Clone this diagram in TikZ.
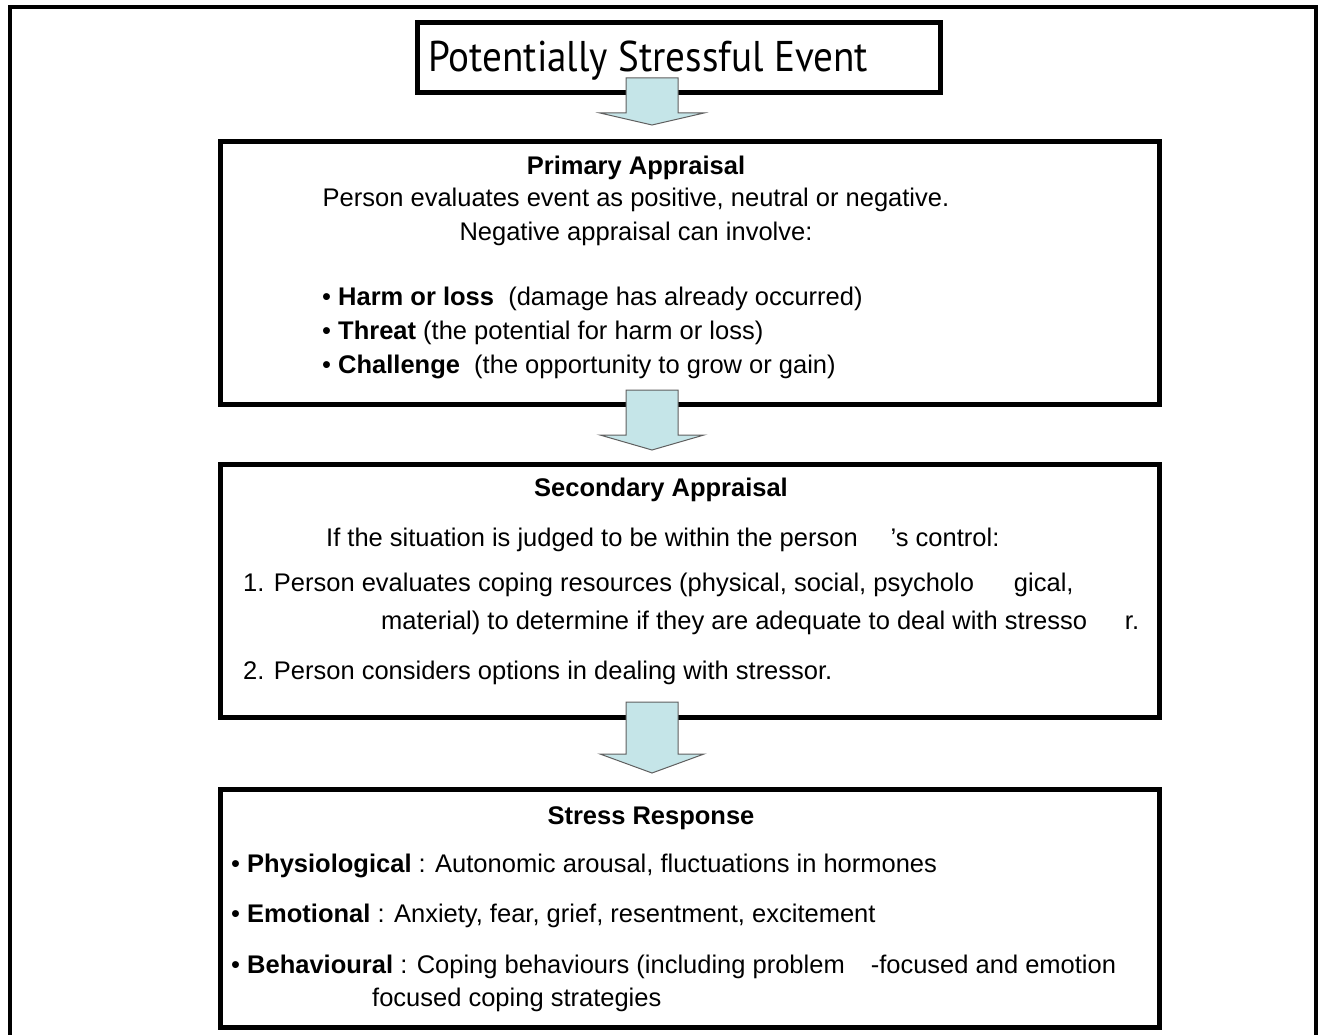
\documentclass[tikz,border=0pt]{standalone}
\usepackage{fontspec}
\setmainfont{Liberation Sans}
\newfontfamily\titlefont{PT Sans}
\usetikzlibrary{calc}
\definecolor{arrowfill}{RGB}{197,229,232}
\definecolor{arrowline}{RGB}{95,95,95}
\tikzset{
  frameline/.style={line width=4pt, line cap=rect},
  box/.style={draw=black, line width=5pt, fill=none, anchor=north west, inner sep=0pt},
  blockarrow/.style={draw=arrowline, fill=arrowfill, line width=1pt, line join=miter},
  txt/.style={anchor=base west, inner sep=0pt, font=\fontsize{25.5}{30}\selectfont},
  ctxt/.style={txt, anchor=base},
  head/.style={ctxt, font=\fontsize{25.5}{30}\selectfont\bfseries},
  pics/downarrow/.style args={#1/#2}{code={
    \draw[blockarrow] (-26,0) -- (26,0) -- (26,#1) -- (52,#1) -- (0,#2) -- (-52,#1) -- (-26,#1) -- cycle;
  }}
}
\begin{document}
\begin{tikzpicture}[x=1pt, y=-1pt]
\useasboundingbox (0,0) rectangle (1319,1035);
% outer frame (open at the bottom)
\coordinate (fbl) at (10,1045);
\coordinate (ftl) at (10,7);
\coordinate (ftr) at (1316,7);
\coordinate (fbr) at (1316,1045);
\draw[frameline] (fbl) -- (ftl) -- (ftr) -- (fbr);

% boxes
\node[box, minimum width=523pt, minimum height=70pt] (event) at (415,20) {};
\node[box, minimum width=939pt, minimum height=263pt] (prim) at (218,139) {};
\node[box, minimum width=939pt, minimum height=253pt] (sec) at (218,462) {};
\node[box, minimum width=939pt, minimum height=238pt] (resp) at (218,787) {};

% title
\node[anchor=base west, inner sep=0pt, font=\titlefont\fontsize{43}{48}\selectfont] (title) at (428,72) {\scalebox{0.91}[1]{Potentially Stressful Event}};

% block arrows
\coordinate (a1) at (652,78);
\coordinate (a2) at (652,390);
\coordinate (a3) at (652,702);
\pic at (a1) {downarrow=35/47};
\pic at (a2) {downarrow=45/60};
\pic at (a3) {downarrow=52/71};

% primary appraisal
\node[head] (pah) at (636,175) {Primary Appraisal};
\node[ctxt] (pa1) at (636,207) {Person evaluates event as positive, neutral or negative.};
\node[ctxt] (pa2) at (636,240) {Negative appraisal can involve:};
\node[txt] (pa3) at (322,305) {• \textbf{Harm or loss}\ \ (damage has already occurred)};
\node[txt] (pa4) at (322,339) {• \textbf{Threat} (the potential for harm or loss)};
\node[txt] (pa5) at (322,373) {• \textbf{Challenge}\ \ (the opportunity to grow or gain)};

% secondary appraisal
\node[head] (sah) at (661,496) {Secondary Appraisal};
\node[txt] (sa1) at (326,546) {If the situation is judged to be within the person\hspace{33pt}’s control:};
\node[txt] (sa2) at (243,591) {1. Person evaluates coping resources (physical, social, psycholo\hspace{40pt}gical,};
\node[txt] (sa3) at (381,629) {material) to determine if they are adequate to deal with stresso\hspace{38pt}r.};
\node[txt] (sa4) at (243,679) {2. Person considers options in dealing with stressor.};

% stress response
\node[head] (srh) at (651,824) {Stress Response};
\node[txt] (sr1) at (231,872) {• \textbf{Physiological} : Autonomic arousal, fluctuations in hormones};
\node[txt] (sr2) at (231,922) {• \textbf{Emotional} : Anxiety, fear, grief, resentment, excitement};
\node[txt] (sr3) at (231,973) {• \textbf{Behavioural} : Coping behaviours (including problem\hspace{26pt}-focused and emotion};
\node[txt] (sr4) at (372,1006) {focused coping strategies};
\end{tikzpicture}
\end{document}
